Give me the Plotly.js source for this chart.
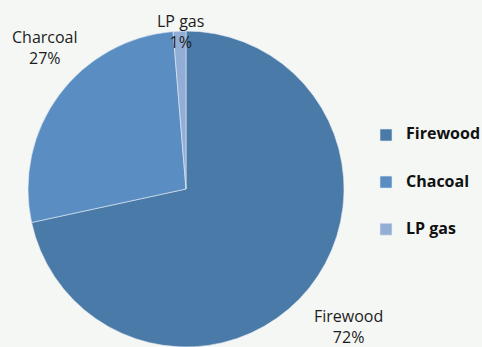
<!DOCTYPE html>
<html>
<head>
<meta charset="utf-8">
<script src="https://cdn.plot.ly/plotly-3.0.1.min.js"></script>
<style>
  html, body { margin: 0; padding: 0; background: #f5f7f4; }
  #chart { width: 482px; height: 347px; }
</style>
</head>
<body>
<div id="chart"></div>
<script>
// Data
const legendNames = ["Firewood", "Chacoal", "LP gas"];   // legend text (as printed)
const sliceNames = ["Firewood", "Charcoal", "LP gas"];   // labels beside slices
const shares = [71.6, 27.1, 1.3];                         // percent (slice angles as drawn)
const sliceColors = ["#4a7aa7", "#5a8ec3", "#93aed6"];

// ---- layout helpers (pixel positions of the data labels, as in the reference) ----
const W = 482, H = 347, TOP = 31, BOTTOM = 0;
const labelPixel = [[348, 326], [45, 47.5], [180, 31]];
const px2x = px => px / W;
const py2y = py => 1 - (py - TOP) / (H - TOP - BOTTOM);

// legend entries: padded with blank lines to reproduce the wide row spacing
const legendLabels = legendNames.map(n =>
  '&nbsp;<br><span style="font-size:16px"><b>' + n + '</b></span><br>&nbsp;');

const trace = {
  type: "pie",
  labels: legendLabels,
  values: shares,
  textinfo: "none",
  sort: false,
  direction: "clockwise",
  rotation: 0,
  hoverinfo: "none",
  marker: { colors: sliceColors, line: { color: "#e4ebf3", width: 0.6 } },
  domain: { x: [27 / W, 345 / W], y: [0, 1] }
};

const total = shares.reduce((a, b) => a + b, 0);
const annotations = sliceNames.map((name, i) => ({
  xref: "paper", yref: "paper",
  x: px2x(labelPixel[i][0]), y: py2y(labelPixel[i][1]),
  xanchor: "center", yanchor: "middle",
  text: name + "<br>" + Math.round(shares[i] / total * 100) + "%",
  showarrow: false,
  align: "center",
  font: { family: "Open Sans, sans-serif", size: 16, color: "#1c1c1c" }
}));

const layout = {
  width: W,
  height: H,
  margin: { l: 0, r: 0, t: TOP, b: BOTTOM, pad: 0, autoexpand: false },
  paper_bgcolor: "#f5f7f4",
  plot_bgcolor: "#f5f7f4",
  showlegend: true,
  annotations: annotations,
  legend: {
    x: 366 / W, xanchor: "left",
    y: py2y(182.5), yanchor: "middle",
    font: { family: "Open Sans, sans-serif", size: 11.3, color: "#111111" },
    bgcolor: "rgba(0,0,0,0)",
    valign: "middle"
  }
};

Plotly.newPlot("chart", [trace], layout, { staticPlot: true, displayModeBar: false });
</script>
</body>
</html>
